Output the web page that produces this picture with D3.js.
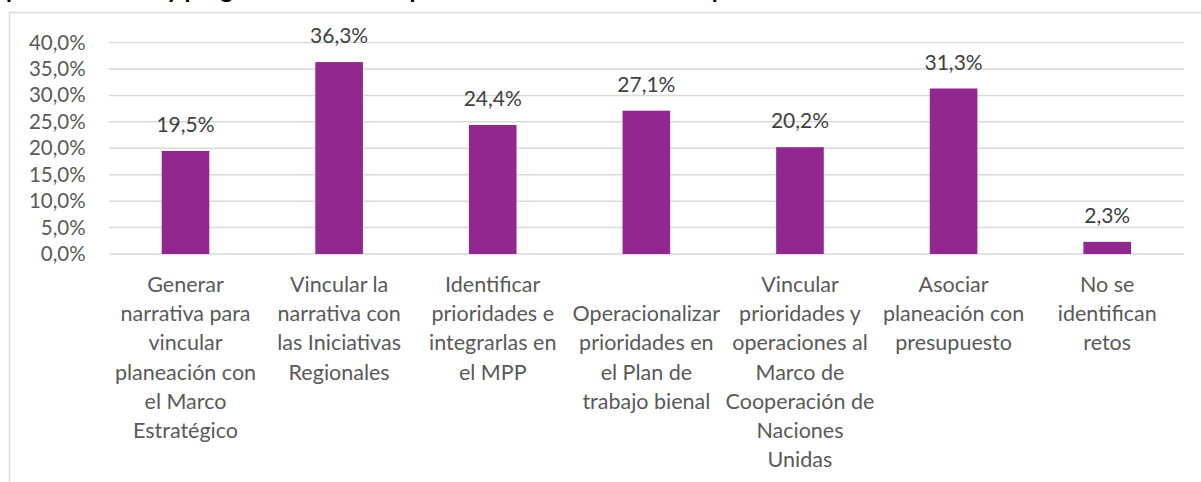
<!DOCTYPE html>
<meta charset="utf-8">
<script src="https://d3js.org/d3.v7.min.js"></script>
<style>
  body { margin: 0; background: #fff; }
  svg { display: block; font-family: Lato, "Open Sans", sans-serif; }
</style>
<body>
<div id="chart"></div>
<script>
// title is cut off at the top of the picture, only descenders show
var titleText = "planes anuales y programas a nivel de país en el marco del ciclo de planeación";

// categories, one array of wrapped lines per bar
var categoryLines = [
  ["Generar", "narrativa para", "vincular", "planeación con", "el Marco", "Estratégico"],
  ["Vincular la", "narrativa con", "las Iniciativas", "Regionales"],
  ["Identificar", "prioridades e", "integrarlas en", "el MPP"],
  ["", "Operacionalizar", "prioridades en", "el Plan de", "trabajo bienal"],
  ["Vincular", "prioridades y", "operaciones al", "Marco de", "Cooperación de", "Naciones", "Unidas"],
  ["Asociar", "planeación con", "presupuesto"],
  ["No se", "identifican", "retos"]
];
var categories = categoryLines.map(function(l) { return l.filter(Boolean).join(" "); });
var values = [0.195, 0.363, 0.244, 0.271, 0.202, 0.313, 0.023];
var yTicks = [0, 0.05, 0.10, 0.15, 0.20, 0.25, 0.30, 0.35, 0.40];

var W = 1201, H = 482;
var plot = { left: 108.7, right: 1184, top: 42.5, bottom: 254 };

var es = d3.formatLocale({ decimal: ",", thousands: ".", grouping: [3], currency: ["", "€"] });
var pct = es.format(".1%");

var svg = d3.select("#chart").append("svg")
    .attr("width", W)
    .attr("height", H);

// title (clipped by the top edge)
svg.append("text")
    .attr("x", 6)
    .attr("y", -2)
    .attr("font-size", 24)
    .attr("font-weight", "bold")
    .attr("fill", "#000")
    .text(titleText);

// chart area border
svg.append("path")
    .attr("d", "M9.5," + (H + 2) + "V12.5H" + (W + 2))
    .attr("fill", "none")
    .attr("stroke", "#D9D9D9")
    .attr("stroke-width", 1.3);

var x = d3.scaleBand()
    .domain(categories)
    .range([plot.left, plot.right])
    .paddingInner(0.69)
    .paddingOuter(0.345);

var y = d3.scaleLinear()
    .domain([0, 0.40])
    .range([plot.bottom, plot.top]);

// gridlines
svg.append("g")
  .selectAll("line")
  .data(yTicks)
  .enter()
  .append("line")
    .attr("x1", plot.left)
    .attr("x2", plot.right)
    .attr("y1", function(d) { return y(d); })
    .attr("y2", function(d) { return y(d); })
    .attr("stroke", "#D9D9D9")
    .attr("stroke-width", 1.5);

// Y axis labels
var yAxis = svg.append("g")
    .attr("transform", "translate(" + (plot.left - 23) + ",0)")
    .call(d3.axisLeft(y).tickValues(yTicks).tickFormat(pct).tickSize(0).tickPadding(0));
yAxis.select(".domain").remove();
yAxis.selectAll("text")
    .attr("font-family", "Lato, sans-serif")
    .attr("font-size", 20.5)
    .attr("fill", "#595959");

// bars
svg.append("g")
  .selectAll("rect")
  .data(values)
  .enter()
  .append("rect")
    .attr("x", function(d, i) { return x(categories[i]); })
    .attr("y", function(d) { return y(d); })
    .attr("width", x.bandwidth())
    .attr("height", function(d) { return y(0) - y(d); })
    .attr("fill", "#92278F");

// value labels
svg.append("g")
  .selectAll("text")
  .data(values)
  .enter()
  .append("text")
    .attr("x", function(d, i) { return x(categories[i]) + x.bandwidth() / 2; })
    .attr("y", function(d) { return y(d) - 19; })
    .attr("text-anchor", "middle")
    .attr("font-size", 21)
    .attr("fill", "#404040")
    .text(function(d) { return pct(d); });

// category labels
var lineH = 29.2;
var cat = svg.append("g")
  .selectAll("text")
  .data(categoryLines)
  .enter()
  .append("text")
    .attr("text-anchor", "middle")
    .attr("font-size", 21.5)
    .attr("fill", "#595959")
    .attr("transform", function(d, i) {
      return "translate(" + (x(categories[i]) + x.bandwidth() / 2) + ",292)";
    });

cat.selectAll("tspan")
  .data(function(d) { return d; })
  .enter()
  .append("tspan")
    .attr("x", 0)
    .attr("y", function(d, j) { return j * lineH; })
    .text(function(d) { return d; });
</script>
</body>
